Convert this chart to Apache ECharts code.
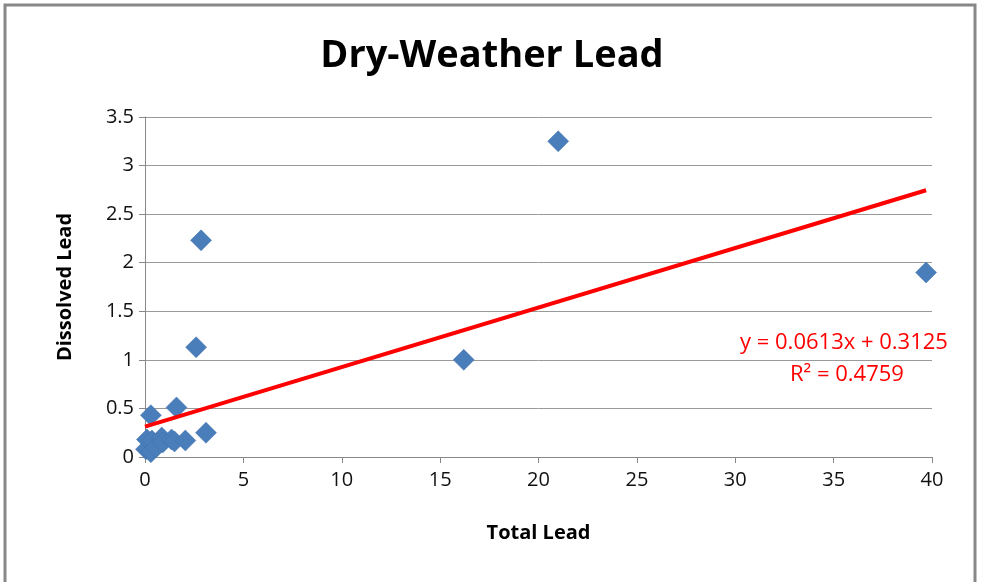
<!DOCTYPE html>
<html>
<head>
<meta charset="utf-8">
<script src="https://cdn.jsdelivr.net/npm/echarts@6/dist/echarts.min.js"></script>
<style>
  html, body { margin: 0; padding: 0; background: #fff; }
  #chart { width: 984px; height: 582px; }
</style>
</head>
<body>
<div id="chart"></div>
<script>
// total lead (x) and dissolved lead (y)
var totalLead = [0.05, 0.1, 0.3, 0.35, 0.55, 0.85, 0.9, 1.35, 1.5, 2.05,
  0.3, 1.6, 3.1, 2.6, 2.85, 16.2, 21.0, 39.7];
var dissolvedLead = [0.08, 0.18, 0.05, 0.17, 0.1, 0.2, 0.15, 0.18, 0.16, 0.17,
  0.43, 0.51, 0.25, 1.13, 2.23, 1.0, 3.25, 1.9];

// trend line as printed on the chart
var slope = 0.0613;
var intercept = 0.3125;
var trendX = [0, 39.7];

var xTicks = [0, 5, 10, 15, 20, 25, 30, 35, 40];
var yTicks = [0, 0.5, 1, 1.5, 2, 2.5, 3, 3.5];

var points = totalLead.map(function (x, i) { return [x, dissolvedLead[i]]; });
var trend = trendX.map(function (x) { return [x, slope * x + intercept]; });

var font = '"Open Sans", "Liberation Sans", sans-serif';

var myChart = echarts.init(document.getElementById('chart'));
var option = {
  backgroundColor: '#fff',
  animation: false,
  title: {
    text: 'Dry-Weather Lead',
    left: 'center',
    top: 32,
    textStyle: { fontFamily: font, fontSize: 38, fontWeight: 'bold', color: '#000' }
  },
  grid: { left: 145, right: 52, top: 117, bottom: 125 },
  xAxis: {
    type: 'value',
    min: xTicks[0],
    max: xTicks[xTicks.length - 1],
    interval: 5,
    name: 'Total Lead',
    nameLocation: 'middle',
    nameGap: 66,
    nameTextStyle: { fontFamily: font, fontSize: 20, fontWeight: 'bold', color: '#000' },
    axisLine: { lineStyle: { color: '#888', width: 1 } },
    axisTick: { show: true, length: 6, lineStyle: { color: '#888' } },
    axisLabel: { fontFamily: font, fontSize: 20, color: '#111', margin: 13 },
    splitLine: { show: false }
  },
  yAxis: {
    type: 'value',
    min: yTicks[0],
    max: yTicks[yTicks.length - 1],
    interval: 0.5,
    name: 'Dissolved Lead',
    nameLocation: 'middle',
    nameGap: 70,
    nameRotate: 90,
    nameTextStyle: { fontFamily: font, fontSize: 20, fontWeight: 'bold', color: '#000' },
    axisLine: { show: true, lineStyle: { color: '#888', width: 1 } },
    axisTick: { show: true, length: 6, lineStyle: { color: '#888' } },
    axisLabel: { fontFamily: font, fontSize: 20, color: '#111', margin: 11 },
    splitLine: { show: true, lineStyle: { color: '#999', width: 1 } }
  },
  series: [
    {
      name: 'Dissolved Lead',
      type: 'scatter',
      symbol: 'diamond',
      symbolSize: 21,
      itemStyle: { color: '#4a7ebb', opacity: 1, borderColor: '#3f6fa8', borderWidth: 0.5 },
      data: points,
      z: 2
    },
    {
      name: 'Trend',
      type: 'line',
      showSymbol: false,
      lineStyle: { color: '#ff0000', width: 4 },
      data: trend,
      z: 3
    }
  ],
  graphic: [
    {
      type: 'rect',
      shape: { x: 5, y: 5, width: 970, height: 590 },
      style: { fill: 'none', stroke: '#888', lineWidth: 3 },
      silent: true
    },
    {
      type: 'text',
      left: 740,
      top: 332,
      style: {
        text: 'y = 0.0613x + 0.3125',
        fill: '#ff0000',
        font: '22px ' + font
      }
    },
    {
      type: 'text',
      left: 790,
      top: 364,
      style: {
        text: 'R² = 0.4759',
        fill: '#ff0000',
        font: '22px ' + font
      }
    }
  ]
};
myChart.setOption(option);
</script>
</body>
</html>
